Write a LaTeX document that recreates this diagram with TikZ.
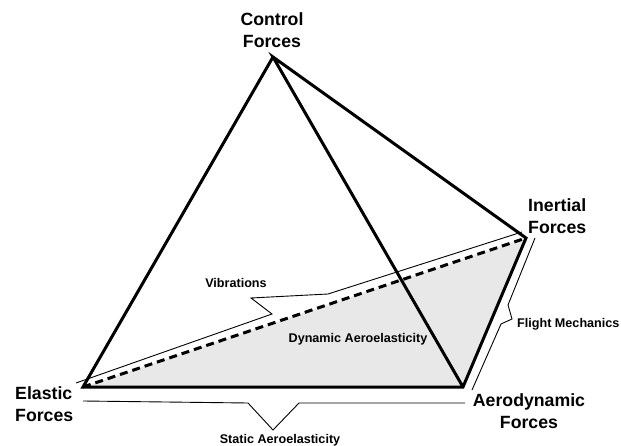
\documentclass[tikz,border=0pt]{standalone}
\usepackage{fontspec}
\setmainfont{Liberation Sans}
\usetikzlibrary{positioning}

\tikzset{
  edge/.style={line width=3pt},
  brace/.style={line width=0.9pt},
  bigtext/.style={font=\bfseries\fontsize{17.7}{22}\selectfont, inner sep=0pt},
  smalltext/.style={font=\bfseries\fontsize{12.6}{15}\selectfont, inner sep=0pt, anchor=base}
}

\begin{document}
\begin{tikzpicture}[x=1pt,y=-1pt]
	\useasboundingbox (0,0) rectangle (621,446);
	\coordinate (ctl) at (273,57);
	\coordinate (ela) at (83,387);
	\coordinate (aer) at (463,387);
	\coordinate (ine) at (526,238);

	\fill[black!9] (ela) -- (aer) -- (ine) -- cycle;
	\draw[edge] (ctl) -- (ela) -- (aer) -- (ine) -- (ctl) -- (aer);
	\draw[edge, dash pattern=on 8pt off 5pt] (ela) -- (ine);

		% braces
		\draw[brace] (76,383) -- (272,314) -- (251,298) -- (328,294) -- (522,232);
		\draw[brace] (535,238) -- (508,305) -- (512,319) -- (501,324) -- (472,390);
		\draw[brace] (83,401) -- (248,403) -- (273,430) -- (299,403) -- (465,403);

	\node[bigtext, anchor=north, align=center] (ctlname) at (272,12) {Control\\Forces};
	\node[bigtext, anchor=north west, align=left] (ininame) at (528,198) {Inertial\\Forces};
	\node[bigtext, anchor=north west, align=left] (elaname) at (15,386) {Elastic\\Forces};
	\node[bigtext, anchor=north, align=center] (aername) at (529,393) {Aerodynamic\\Forces};

	\node[smalltext] (vib) at (236,288) {Vibrations};
	\node[smalltext] (dyn) at (358,342) {Dynamic Aeroelasticity};
	\node[smalltext, anchor=base west] (flm) at (517,327) {Flight Mechanics};
	\node[smalltext] (sta) at (280,443) {Static Aeroelasticity};

		\end{tikzpicture}
\end{document}
